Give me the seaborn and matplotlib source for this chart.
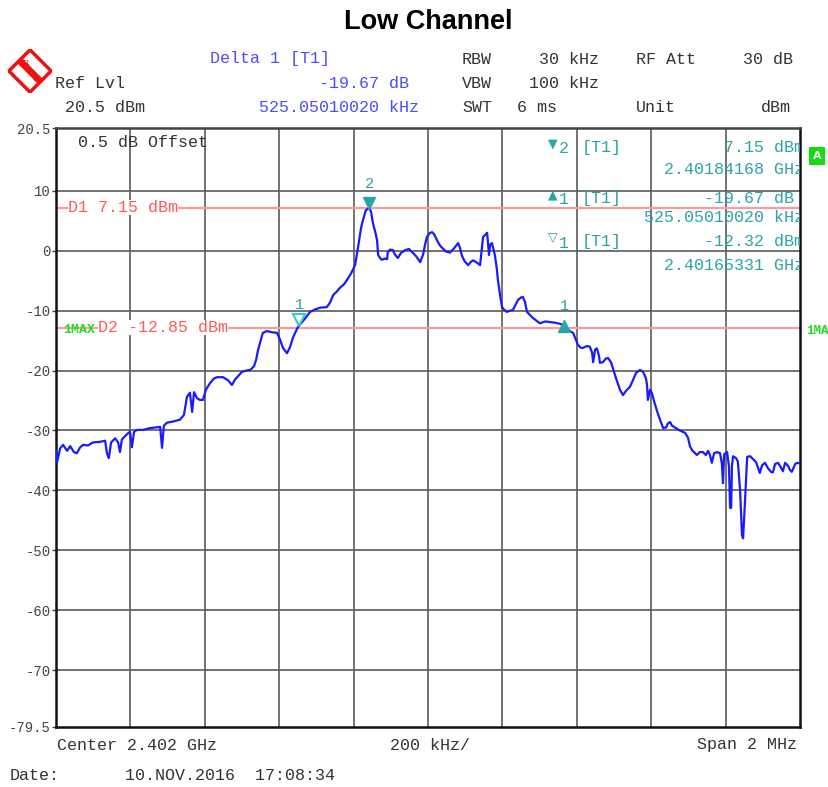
import matplotlib
matplotlib.use("Agg")
import matplotlib.pyplot as plt
import matplotlib.transforms as mtransforms
from matplotlib.patches import Polygon
import seaborn as sns

# ---------- data ----------
# frequency offset from start frequency (2.401 GHz), kHz
freq_khz = [
    0, 3, 11, 19, 30, 38, 48, 56, 65, 73, 86, 99, 118, 132, 137, 142, 148, 159, 167, 172,
    177, 191, 199, 204, 210, 218, 234, 253, 266, 280, 285, 290, 298, 315, 333, 344, 352, 360,
    366, 371, 379, 387, 395, 403, 414, 425, 433, 449, 462, 473, 481, 487, 500, 511, 522, 532,
    538, 543, 551, 556, 567, 581, 594, 602, 610, 621, 629, 637, 648, 656, 667, 683, 696, 710,
    728, 737, 745, 755, 763, 774, 782, 793, 804, 812, 820, 825, 833, 842, 847, 852, 858, 863,
    866, 871, 876, 884, 890, 892, 898, 906, 911, 919, 927, 938, 949, 957, 968, 979, 987, 992,
    997, 1005, 1011, 1016, 1024, 1032, 1038, 1048, 1059, 1070, 1081, 1086, 1091, 1099, 1108,
    1116, 1121, 1132, 1140, 1145, 1148, 1153, 1159, 1161, 1164, 1167, 1172, 1177, 1180, 1185,
    1188, 1194, 1199, 1204, 1212, 1220, 1228, 1237, 1242, 1250, 1255, 1261, 1266, 1274, 1280,
    1290, 1301, 1315, 1328, 1341, 1355, 1363, 1368, 1376, 1384, 1390, 1398, 1403, 1411, 1417,
    1427, 1435, 1441, 1444, 1449, 1454, 1460, 1462, 1470, 1478, 1484, 1492, 1497, 1505, 1516,
    1524, 1532, 1543, 1551, 1559, 1570, 1578, 1586, 1589, 1591, 1597, 1602, 1610, 1618, 1626,
    1632, 1640, 1645, 1651, 1656, 1664, 1677, 1691, 1699, 1704, 1710, 1718, 1723, 1731, 1739,
    1747, 1753, 1758, 1763, 1769, 1777, 1785, 1790, 1793, 1796, 1804, 1809, 1812, 1815, 1817,
    1820, 1828, 1833, 1839, 1844, 1847, 1852, 1858, 1866, 1871, 1882, 1892, 1898, 1906, 1914,
    1922, 1927, 1933, 1941, 1949, 1954, 1960, 1968, 1973, 1978, 1987, 1992, 2000,
]
level_dbm = [
    -33.2, -35.3, -33.0, -32.4, -33.4, -32.6, -33.6, -33.8, -32.8, -32.4, -32.5, -32.0, -31.9,
    -31.7, -33.8, -34.6, -32.0, -31.3, -32.0, -33.6, -31.5, -30.6, -30.2, -32.8, -30.2, -29.9,
    -29.9, -29.6, -29.5, -29.4, -32.9, -29.2, -28.7, -28.5, -28.2, -27.4, -24.4, -23.7, -26.9,
    -23.6, -24.6, -24.9, -24.9, -23.2, -22.1, -21.3, -21.1, -21.1, -21.6, -22.4, -21.5, -21.1,
    -20.2, -20.0, -19.9, -19.3, -18.2, -16.6, -14.8, -13.7, -13.4, -13.6, -13.7, -14.8, -16.2,
    -17.1, -16.1, -14.5, -13.0, -12.3, -11.5, -10.2, -9.8, -9.5, -9.4, -8.6, -7.4, -6.8, -6.2,
    -5.6, -4.9, -3.8, -2.4, 0.6, 3.8, 5.1, 6.8, 7.15, 6.5, 4.6, 3.2, 1.8, -0.7, -1.2, -1.5,
    -1.3, -1.4, -0.2, 0.2, 0.1, -0.6, -1.2, -0.4, 0.1, 0.3, -0.2, -0.9, -1.9, -0.6, 1.0, 2.3,
    3.0, 3.1, 2.8, 1.8, 0.9, 0.5, -0.1, -0.3, 0.4, 1.3, 0.5, -0.8, -1.8, -2.4, -1.8, -1.6,
    -2.0, -2.4, 0.5, 2.3, 2.6, 3.0, 1.5, -0.7, 1.0, 1.3, 0.0, -0.8, -3.0, -4.9, -7.5, -9.4,
    -9.8, -10.2, -10.0, -9.9, -8.8, -8.2, -7.8, -7.7, -8.6, -10.2, -10.7, -11.1, -11.6, -12.1,
    -11.8, -11.9, -12.0, -12.2, -12.4, -12.6, -13.2, -13.5, -13.7, -14.9, -15.7, -16.2, -16.2,
    -15.9, -16.0, -17.0, -18.6, -16.5, -16.3, -17.6, -18.7, -18.6, -18.0, -17.9, -18.6, -19.6,
    -21.2, -23.2, -24.1, -23.4, -22.7, -21.6, -20.4, -19.9, -20.2, -21.3, -22.5, -24.9, -23.2,
    -23.8, -25.6, -27.2, -28.6, -29.6, -29.5, -28.8, -28.6, -29.2, -29.5, -30.0, -30.4, -31.2,
    -32.6, -33.3, -33.8, -34.1, -33.6, -33.6, -34.1, -33.4, -34.1, -35.4, -33.8, -33.6, -33.8,
    -35.5, -38.8, -34.0, -33.6, -36.0, -42.9, -42.9, -36.0, -34.3, -34.6, -35.2, -40.0, -47.5,
    -48.0, -42.0, -34.4, -34.3, -34.6, -35.3, -37.1, -35.8, -35.4, -36.3, -36.9, -37.0, -35.6,
    -35.4, -36.2, -36.8, -35.4, -35.9, -36.6, -36.9, -35.6, -35.4, -35.5,
]

start_ghz = 2.401
marker2_ghz, marker2_dbm = 2.40184168, 7.15
marker1_ghz, marker1_dbm = 2.40165331, -12.32
delta1_khz, delta1_db = 525.05010020, -19.67
d1_level, d2_level = 7.15, -12.85

y_ticks = [20.5, 10, 0, -10, -20, -30, -40, -50, -60, -70, -79.5]
y_labels = ["20.5", "10", "0", "-10", "-20", "-30", "-40", "-50", "-60", "-70", "-79.5"]

# ---------- figure ----------
sns.set_style("white")
mono = ["Liberation Mono", "DejaVu Sans Mono"]
plt.rcParams["font.family"] = mono

W, H = 829, 787
fig = plt.figure(figsize=(W / 100, H / 100), dpi=100)
ax = fig.add_axes([56 / W, 1 - 727 / H, 744 / W, 599 / H])

GRID = "#5a5a5a"
for xv in range(200, 2000, 200):
    ax.axvline(xv, color=GRID, lw=1.2, zorder=1)
for yv in y_ticks[1:-1]:
    ax.axhline(yv, color=GRID, lw=1.2, zorder=1)

# display lines D1 / D2
ax.axhline(d1_level, color="#ff9a9a", lw=1.6, zorder=2)
ax.axhline(d2_level, color="#ff9a9a", lw=1.6, zorder=2)
ax.text(32, d1_level, "D1 7.15 dBm", color="#ff5a5a", fontsize=12, va="center",
        bbox=dict(facecolor="white", edgecolor="none", pad=0), zorder=3)
ax.text(112, d2_level, "D2 -12.85 dBm", color="#ff5a5a", fontsize=12, va="center",
        bbox=dict(facecolor="white", edgecolor="none", pad=0), zorder=3)
ax.text(18, d2_level - 0.4, "1MAX", color="#22dd22", fontsize=9.5, fontweight="bold",
        va="center", zorder=3)

# trace
sns.lineplot(x=freq_khz, y=level_dbm, ax=ax, color="#1a1aff", lw=1.6,
             estimator=None, zorder=4)

# markers
TEAL = "#2aa5a5"
m2_x = (marker2_ghz - start_ghz) * 1e6
m1_x = (marker1_ghz - start_ghz) * 1e6
d1_x = m2_x + delta1_khz
d1_y = marker2_dbm + delta1_db
up = mtransforms.offset_copy(ax.transData, fig=fig, x=0, y=5, units="dots")
ax.plot([m2_x], [marker2_dbm], marker="v", ms=8, color=TEAL, transform=up, zorder=5)
ax.plot([m1_x], [marker1_dbm], marker="v", ms=8, mfc="none", mec="#3cc8c8", mew=1.5,
        transform=up, zorder=5)
ax.plot([d1_x], [d1_y], marker="^", ms=8, color=TEAL, zorder=5)
ax.annotate("2", (m2_x, marker2_dbm), xytext=(0, 17), textcoords="offset points",
            ha="center", va="center", color=TEAL, fontsize=11)
ax.annotate("1", (m1_x, marker1_dbm), xytext=(0, 14), textcoords="offset points",
            ha="center", va="center", color=TEAL, fontsize=11)
ax.annotate("1", (d1_x, d1_y), xytext=(0, 14), textcoords="offset points",
            ha="center", va="center", color=TEAL, fontsize=11)

ax.text(59, 18.0, "0.5 dB Offset", color="#333333", fontsize=12, va="center")

# marker readout inside the grid
rows = [0.968, 0.930, 0.883, 0.850, 0.811, 0.770]
sym = ["▼", None, "▲", None, "▽", None]
nums = ["2", None, "1", None, "1", None]
vals = [f"{marker2_dbm:.2f} dBm", f"{marker2_ghz:.8f} GHz", f"{delta1_db:.2f} dB ",
        f"{delta1_khz:.8f} kHz", f"{marker1_dbm:.2f} dBm", f"{marker1_ghz:.8f} GHz"]
for r, s, n, v in zip(rows, sym, nums, vals):
    if s:
        ax.text(0.661, r + 0.006, s, transform=ax.transAxes, color=TEAL, fontsize=9,
                family="DejaVu Sans", ha="left", va="center")
        ax.text(0.676, r - 0.003, n, transform=ax.transAxes, color=TEAL, fontsize=12,
                ha="left", va="center")
        ax.text(0.707, r, "[T1]", transform=ax.transAxes, color=TEAL, fontsize=12,
                ha="left", va="center")
    ax.text(1.005, r, v, transform=ax.transAxes, color=TEAL, fontsize=12,
            ha="right", va="center", clip_on=True)

ax.set_xlim(0, 2000)
ax.set_ylim(-79.5, 20.5)
ax.set_xticks([])
ax.set_yticks(y_ticks)
ax.set_yticklabels(y_labels)
ax.tick_params(axis="y", length=3, width=1, pad=1, labelsize=10, labelcolor="#444444",
               left=True, color="#444444")
ax.set_xlabel("")
ax.set_ylabel("")
for side, sp in ax.spines.items():
    sp.set_color("#111111")
    sp.set_linewidth(1.8)
ax.spines["top"].set_color("#444444")

# ---------- header / footer text ----------
def ftext(x, y, s, **kw):
    kw.setdefault("fontsize", 12)
    kw.setdefault("va", "center")
    fig.text(x / W, 1 - y / H, s, **kw)

fig.text(0.516, 1 - 22 / H, "Low Channel", ha="center", va="center", fontsize=19.5,
         fontweight="bold", family="Liberation Sans", color="black")

GRAY = "#333333"
BLUE = "#4b4bff"
ftext(55, 83, "Ref Lvl", color=GRAY)
ftext(65, 107, "20.5 dBm", color=GRAY)
ftext(210, 59, "Delta 1 [T1]", color=BLUE)
ftext(409, 83, f"{delta1_db:.2f} dB", color=BLUE, ha="right")
ftext(419, 107, f"{delta1_khz:.8f} kHz", color=BLUE, ha="right")
ftext(462, 59, "RBW", color=GRAY)
ftext(599, 59, "30 kHz", color=GRAY, ha="right")
ftext(636, 59, "RF Att", color=GRAY)
ftext(793, 59, "30 dB", color=GRAY, ha="right")
ftext(462, 83, "VBW", color=GRAY)
ftext(599, 83, "100 kHz", color=GRAY, ha="right")
ftext(462, 107, "SWT", color=GRAY)
ftext(557, 107, "6 ms", color=GRAY, ha="right")
ftext(636, 107, "Unit", color=GRAY)
ftext(791, 107, "dBm", color=GRAY, ha="right")

ftext(57, 745, "Center 2.402 GHz", color=GRAY)
ftext(390, 745, "200 kHz/", color=GRAY)
ftext(797, 745, "Span 2 MHz", color=GRAY, ha="right")
ftext(10, 776, "Date:", color=GRAY)
ftext(125, 776, "10.NOV.2016  17:08:34", color=GRAY)

ftext(817, 156, "A", color="white", fontsize=8, fontweight="bold", ha="center",
      family="DejaVu Sans",
      bbox=dict(facecolor="#11dd11", edgecolor="none", boxstyle="square,pad=0.35"))
ftext(806, 331, "1MA", color="#22dd22", fontsize=9, fontweight="bold")

# R&S logo
lax = fig.add_axes([8 / W, 1 - 93 / H, 44 / W, 44 / H])
lax.set_xlim(0, 1)
lax.set_ylim(0, 1)
lax.axis("off")
lax.add_patch(Polygon([[0.5, 0.02], [0.98, 0.5], [0.5, 0.98], [0.02, 0.5]],
                      closed=True, facecolor="white", edgecolor="#ee1111", lw=2.5))
lax.plot([0.26, 0.74], [0.74, 0.26], color="#ee1111", lw=5, solid_capstyle="butt")
lax.text(0.4, 0.68, "R", color="#ee1111", fontsize=6, ha="center", va="center",
         family="DejaVu Serif")
lax.text(0.62, 0.32, "S", color="#ee1111", fontsize=6, ha="center", va="center",
         family="DejaVu Serif")

fig.savefig("out.png", dpi=100)
